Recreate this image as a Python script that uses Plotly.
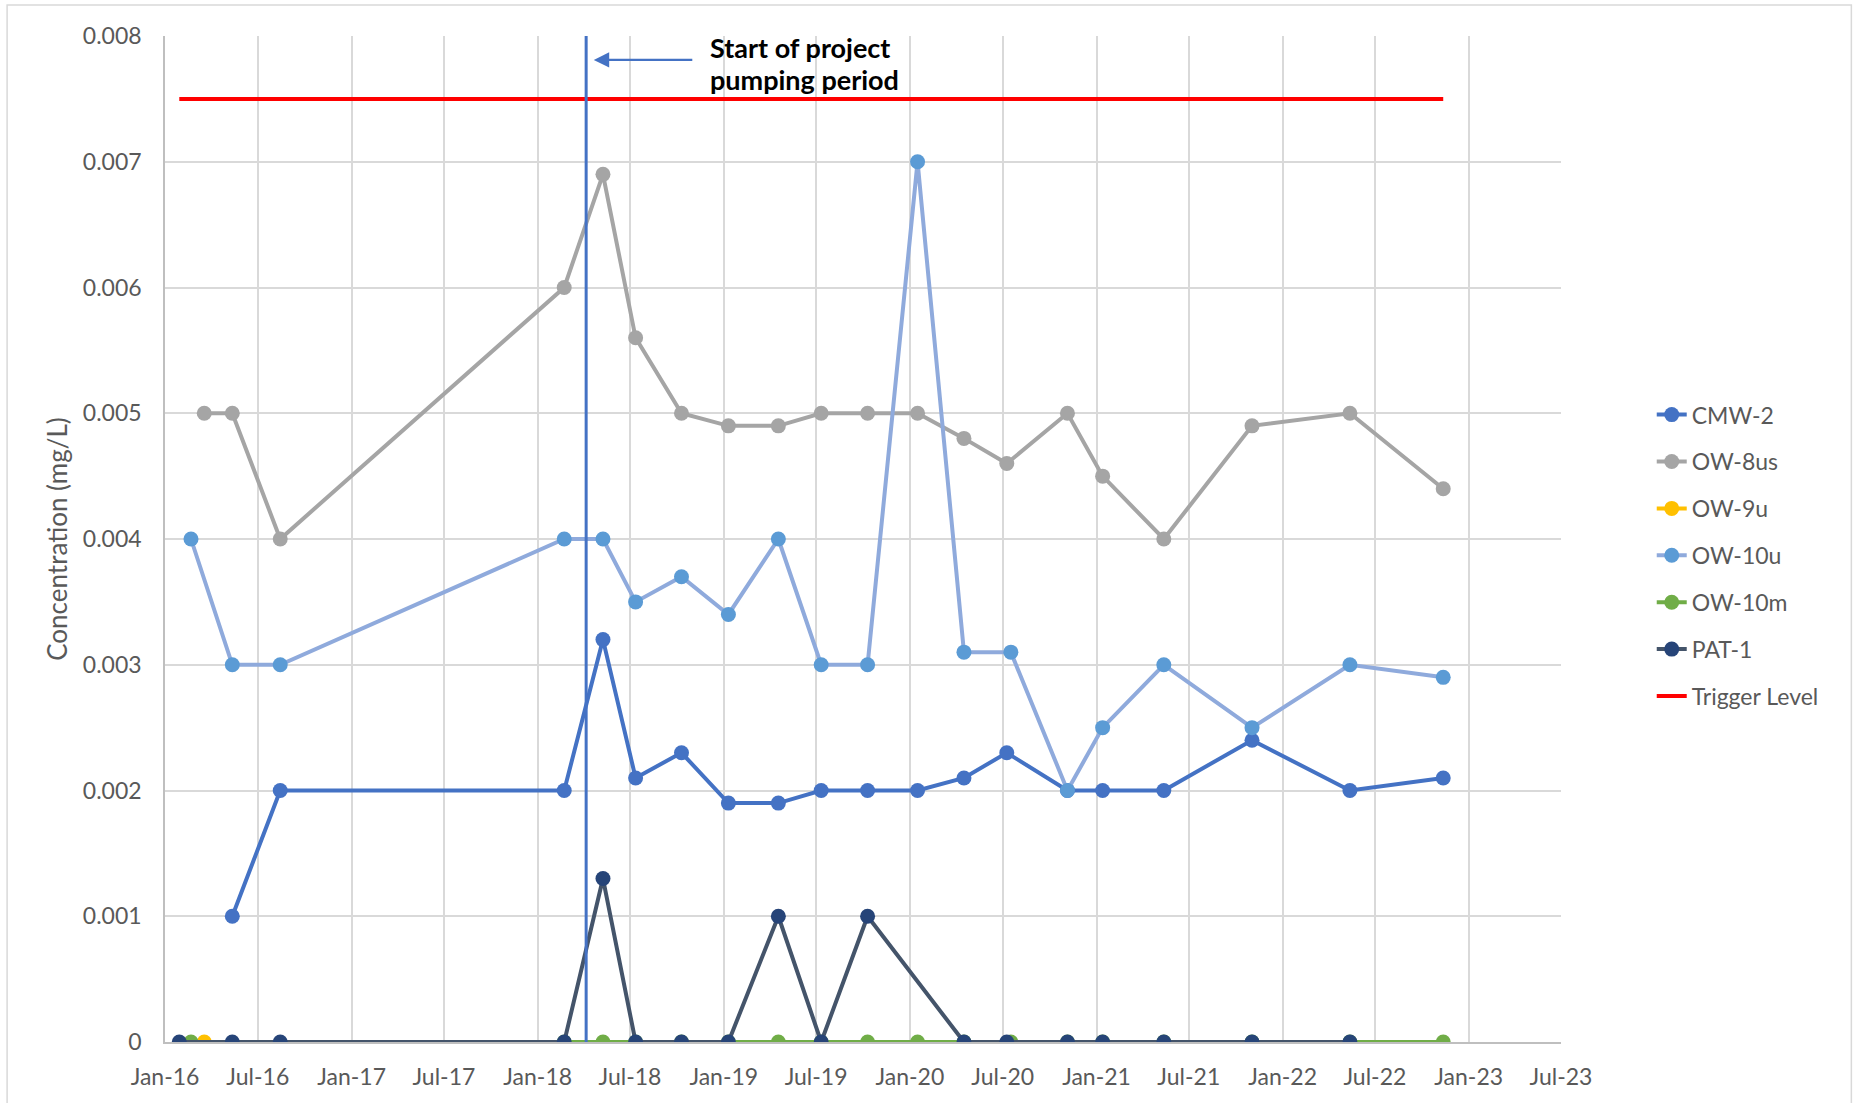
import plotly.graph_objects as go

# ---------------- data ----------------
cmw2_dates = ["2016-05-12", "2016-08-14", "2018-02-22", "2018-05-09", "2018-07-12", "2018-10-10",
              "2019-01-10", "2019-04-18", "2019-07-11", "2019-10-10", "2020-01-16", "2020-04-16",
              "2020-07-09", "2020-11-05", "2021-01-13", "2021-05-13", "2021-11-02", "2022-05-13",
              "2022-11-12"]
cmw2_vals = [0.001, 0.002, 0.002, 0.0032, 0.0021, 0.0023, 0.0019, 0.0019, 0.002, 0.002, 0.002,
             0.0021, 0.0023, 0.002, 0.002, 0.002, 0.0024, 0.002, 0.0021]

ow8us_dates = ["2016-03-18", "2016-05-12", "2016-08-14", "2018-02-22", "2018-05-09", "2018-07-12",
               "2018-10-10", "2019-01-10", "2019-04-18", "2019-07-11", "2019-10-10", "2020-01-16",
               "2020-04-16", "2020-07-09", "2020-11-05", "2021-01-13", "2021-05-13", "2021-11-02",
               "2022-05-13", "2022-11-12"]
ow8us_vals = [0.005, 0.005, 0.004, 0.006, 0.0069, 0.0056, 0.005, 0.0049, 0.0049, 0.005, 0.005,
              0.005, 0.0048, 0.0046, 0.005, 0.0045, 0.004, 0.0049, 0.005, 0.0044]

ow9u_dates = ["2016-03-18"]
ow9u_vals = [0.0]

ow10u_dates = ["2016-02-21", "2016-05-12", "2016-08-14", "2018-02-22", "2018-05-09", "2018-07-12",
               "2018-10-10", "2019-01-10", "2019-04-18", "2019-07-11", "2019-10-10", "2020-01-16",
               "2020-04-16", "2020-07-17", "2020-11-05", "2021-01-13", "2021-05-13", "2021-11-02",
               "2022-05-13", "2022-11-12"]
ow10u_vals = [0.004, 0.003, 0.003, 0.004, 0.004, 0.0035, 0.0037, 0.0034, 0.004, 0.003, 0.003,
              0.007, 0.0031, 0.0031, 0.002, 0.0025, 0.003, 0.0025, 0.003, 0.0029]

ow10m_dates = ["2016-02-21", "2018-02-22", "2018-05-09", "2018-07-12", "2018-10-10", "2019-01-10",
               "2019-04-18", "2019-07-11", "2019-10-10", "2020-01-16", "2020-04-16", "2020-07-17",
               "2020-11-05", "2021-01-13", "2021-05-13", "2021-11-02", "2022-05-13", "2022-11-12"]
ow10m_vals = [0.0] * len(ow10m_dates)

pat1_dates = ["2016-01-29", "2016-05-12", "2016-08-14", "2018-02-22", "2018-05-09", "2018-07-12",
              "2018-10-10", "2019-01-10", "2019-04-18", "2019-07-11", "2019-10-10", "2020-04-16",
              "2020-07-09", "2020-11-05", "2021-01-13", "2021-05-13", "2021-11-02", "2022-05-13"]
pat1_vals = [0, 0, 0, 0, 0.0013, 0, 0, 0, 0.001, 0, 0.001, 0, 0, 0, 0, 0, 0, 0]

trigger_dates = ["2016-01-29", "2022-11-12"]
trigger_vals = [0.0075, 0.0075]

pump_start = "2018-04-06"
arrow_tip = ("2018-04-21", 0.00781)
annot_lines = ["Start of project", "pumping period"]

x_range = ["2016-01-01", "2023-07-01"]
y_range = [0, 0.008]

# ---------------- figure ----------------
FONT = "Lato"
GREY_TXT = "#595959"

fig = go.Figure()

def add_series(name, xs, ys, line_color, marker_color):
    fig.add_trace(go.Scatter(
        x=xs, y=ys, name=name, mode="lines+markers", legendgroup=name,
        line=dict(color=line_color, width=4),
        marker=dict(color=marker_color, size=15, line=dict(width=0)),
    ))

add_series("CMW-2", cmw2_dates, cmw2_vals, "#4472C4", "#4472C4")
add_series("OW-8us", ow8us_dates, ow8us_vals, "#A5A5A5", "#A5A5A5")
add_series("OW-9u", ow9u_dates, ow9u_vals, "#FFC000", "#FFC000")
add_series("OW-10u", ow10u_dates, ow10u_vals, "#8FAADC", "#5B9BD5")
add_series("OW-10m", ow10m_dates, ow10m_vals, "#70AD47", "#70AD47")
add_series("PAT-1", pat1_dates, pat1_vals, "#44546A", "#264478")

fig.add_trace(go.Scatter(
    x=trigger_dates, y=trigger_vals, name="Trigger Level", mode="lines",
    legendgroup="Trigger Level", line=dict(color="#FF0000", width=4),
))

# vertical line marking start of pumping
fig.add_trace(go.Scatter(
    x=[pump_start, pump_start], y=y_range, mode="lines", showlegend=False,
    line=dict(color="#4472C4", width=3), hoverinfo="skip",
))

# arrow
fig.add_annotation(
    x=arrow_tip[0], y=arrow_tip[1], xref="x", yref="y",
    ax=100, ay=0, axref="pixel", ayref="pixel",
    text="", showarrow=True, arrowhead=2, arrowsize=1.4, arrowwidth=2.2,
    arrowcolor="#4472C4",
)
fig.add_annotation(
    x=0.3891, y=1.0, xref="paper", yref="paper", xanchor="left", yanchor="middle",
    yshift=-11, text="<b>" + annot_lines[0] + "</b>", showarrow=False,
    font=dict(family=FONT, size=27, color="#000000"),
)
fig.add_annotation(
    x=0.3891, y=1.0, xref="paper", yref="paper", xanchor="left", yanchor="middle",
    yshift=-43, text="<b>" + annot_lines[1] + "</b>", showarrow=False,
    font=dict(family=FONT, size=27, color="#000000"),
)

# outer chart border
fig.add_shape(type="rect", xref="paper", yref="paper",
              x0=-0.1131, x1=1.2080, y0=-0.08, y1=1.0308,
              line=dict(color="#D9D9D9", width=1.5), fillcolor="rgba(0,0,0,0)", layer="below")

fig.update_layout(
    width=1855, height=1103,
    margin=dict(l=165, r=293.5, t=36, b=61),
    paper_bgcolor="white", plot_bgcolor="white",
    font=dict(family=FONT, size=23, color=GREY_TXT),
    legend=dict(
        x=1.065, y=0.645, xanchor="left", yanchor="top",
        font=dict(family=FONT, size=23, color=GREY_TXT),
        tracegroupgap=14, bgcolor="rgba(0,0,0,0)",
    ),
    xaxis=dict(
        type="date", range=x_range, dtick="M6", tick0="2016-01-01", tickformat="%b-%y",
        showgrid=True, gridcolor="#D9D9D9", gridwidth=1.5,
        showline=True, linecolor="#BFBFBF", linewidth=1.5,
        ticks="", ticklabelstandoff=14, zeroline=False,
        tickfont=dict(family=FONT, size=23, color=GREY_TXT),
    ),
    yaxis=dict(
        range=y_range, dtick=0.001, tick0=0,
        showgrid=True, gridcolor="#D9D9D9", gridwidth=1.5,
        showline=True, linecolor="#BFBFBF", linewidth=1.5,
        ticks="", ticklabelstandoff=17, zeroline=False,
        tickfont=dict(family=FONT, size=23, color=GREY_TXT),
        title=dict(text="Concentration (mg/L)", standoff=8,
                   font=dict(family=FONT, size=26, color=GREY_TXT)),
    ),
    showlegend=True,
)

fig.write_html("out.html", config={"displayModeBar": False},
               post_script="document.body.style.margin='0';document.body.style.overflow='hidden';")
